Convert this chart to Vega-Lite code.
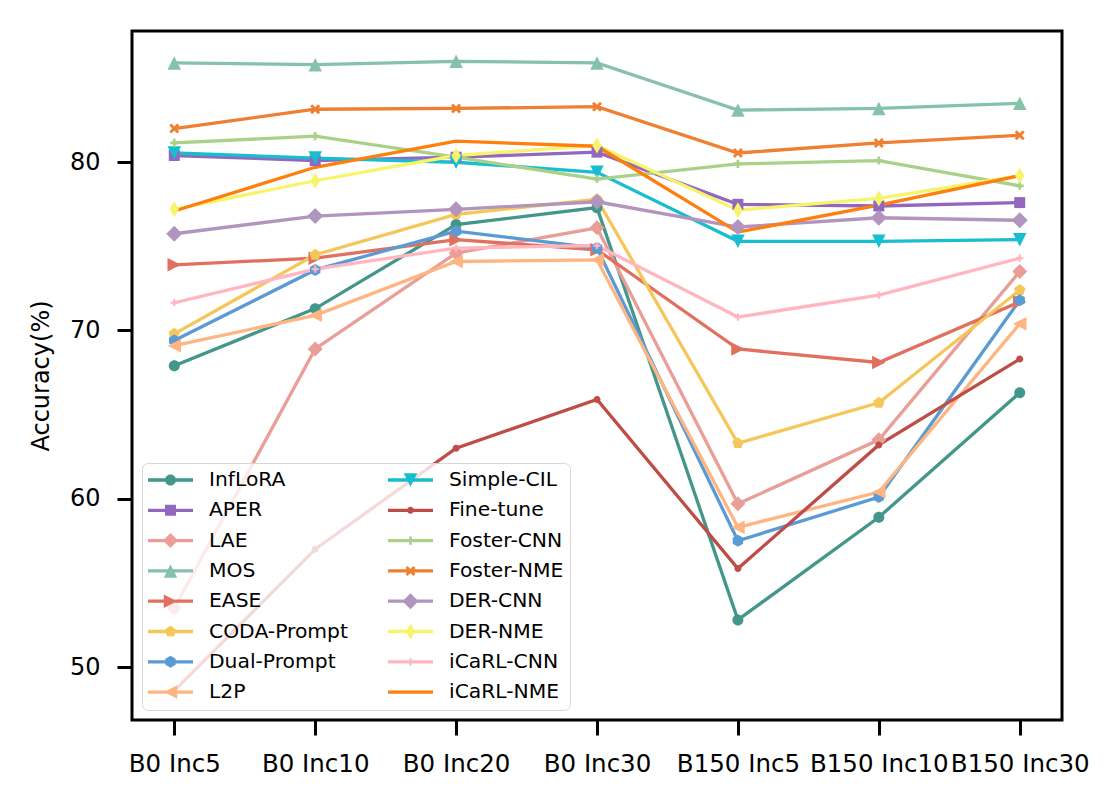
{
  "$schema": "https://vega.github.io/schema/vega-lite/v6.json",
  "width": 930,
  "height": 689,
  "autosize": {"type": "none"},
  "padding": {"left": 132, "top": 31, "right": 58, "bottom": 86},
  "background": "white",
  "config": {
    "view": {"stroke": "black", "strokeWidth": 3},
    "font": "DejaVu Sans",
    "axis": {"labelFont": "DejaVu Sans", "titleFont": "DejaVu Sans", "labelColor": "black", "titleColor": "black", "grid": false, "domain": false, "tickColor": "black", "tickWidth": 3, "tickSize": 15}
  },
  "data": {"values": [
    {"method": "InfLoRA", "setting": "B0 Inc5", "acc": 67.9},
    {"method": "InfLoRA", "setting": "B0 Inc10", "acc": 71.3},
    {"method": "InfLoRA", "setting": "B0 Inc20", "acc": 76.3},
    {"method": "InfLoRA", "setting": "B0 Inc30", "acc": 77.3},
    {"method": "InfLoRA", "setting": "B150 Inc5", "acc": 52.8},
    {"method": "InfLoRA", "setting": "B150 Inc10", "acc": 58.9},
    {"method": "InfLoRA", "setting": "B150 Inc30", "acc": 66.3},
    {"method": "APER", "setting": "B0 Inc5", "acc": 80.4},
    {"method": "APER", "setting": "B0 Inc10", "acc": 80.1},
    {"method": "APER", "setting": "B0 Inc20", "acc": 80.3},
    {"method": "APER", "setting": "B0 Inc30", "acc": 80.6},
    {"method": "APER", "setting": "B150 Inc5", "acc": 77.5},
    {"method": "APER", "setting": "B150 Inc10", "acc": 77.4},
    {"method": "APER", "setting": "B150 Inc30", "acc": 77.6},
    {"method": "LAE", "setting": "B0 Inc5", "acc": 53.5},
    {"method": "LAE", "setting": "B0 Inc10", "acc": 68.9},
    {"method": "LAE", "setting": "B0 Inc20", "acc": 74.6},
    {"method": "LAE", "setting": "B0 Inc30", "acc": 76.1},
    {"method": "LAE", "setting": "B150 Inc5", "acc": 59.7},
    {"method": "LAE", "setting": "B150 Inc10", "acc": 63.5},
    {"method": "LAE", "setting": "B150 Inc30", "acc": 73.5},
    {"method": "MOS", "setting": "B0 Inc5", "acc": 85.9},
    {"method": "MOS", "setting": "B0 Inc10", "acc": 85.8},
    {"method": "MOS", "setting": "B0 Inc20", "acc": 86.0},
    {"method": "MOS", "setting": "B0 Inc30", "acc": 85.9},
    {"method": "MOS", "setting": "B150 Inc5", "acc": 83.1},
    {"method": "MOS", "setting": "B150 Inc10", "acc": 83.2},
    {"method": "MOS", "setting": "B150 Inc30", "acc": 83.5},
    {"method": "EASE", "setting": "B0 Inc5", "acc": 73.9},
    {"method": "EASE", "setting": "B0 Inc10", "acc": 74.3},
    {"method": "EASE", "setting": "B0 Inc20", "acc": 75.4},
    {"method": "EASE", "setting": "B0 Inc30", "acc": 74.8},
    {"method": "EASE", "setting": "B150 Inc5", "acc": 68.9},
    {"method": "EASE", "setting": "B150 Inc10", "acc": 68.1},
    {"method": "EASE", "setting": "B150 Inc30", "acc": 71.7},
    {"method": "CODA-Prompt", "setting": "B0 Inc5", "acc": 69.8},
    {"method": "CODA-Prompt", "setting": "B0 Inc10", "acc": 74.5},
    {"method": "CODA-Prompt", "setting": "B0 Inc20", "acc": 76.9},
    {"method": "CODA-Prompt", "setting": "B0 Inc30", "acc": 77.8},
    {"method": "CODA-Prompt", "setting": "B150 Inc5", "acc": 63.3},
    {"method": "CODA-Prompt", "setting": "B150 Inc10", "acc": 65.7},
    {"method": "CODA-Prompt", "setting": "B150 Inc30", "acc": 72.4},
    {"method": "Dual-Prompt", "setting": "B0 Inc5", "acc": 69.4},
    {"method": "Dual-Prompt", "setting": "B0 Inc10", "acc": 73.6},
    {"method": "Dual-Prompt", "setting": "B0 Inc20", "acc": 75.9},
    {"method": "Dual-Prompt", "setting": "B0 Inc30", "acc": 74.9},
    {"method": "Dual-Prompt", "setting": "B150 Inc5", "acc": 57.5},
    {"method": "Dual-Prompt", "setting": "B150 Inc10", "acc": 60.1},
    {"method": "Dual-Prompt", "setting": "B150 Inc30", "acc": 71.8},
    {"method": "L2P", "setting": "B0 Inc5", "acc": 69.1},
    {"method": "L2P", "setting": "B0 Inc10", "acc": 70.9},
    {"method": "L2P", "setting": "B0 Inc20", "acc": 74.1},
    {"method": "L2P", "setting": "B0 Inc30", "acc": 74.2},
    {"method": "L2P", "setting": "B150 Inc5", "acc": 58.3},
    {"method": "L2P", "setting": "B150 Inc10", "acc": 60.4},
    {"method": "L2P", "setting": "B150 Inc30", "acc": 70.4},
    {"method": "Simple-CIL", "setting": "B0 Inc5", "acc": 80.55},
    {"method": "Simple-CIL", "setting": "B0 Inc10", "acc": 80.25},
    {"method": "Simple-CIL", "setting": "B0 Inc20", "acc": 80.0},
    {"method": "Simple-CIL", "setting": "B0 Inc30", "acc": 79.4},
    {"method": "Simple-CIL", "setting": "B150 Inc5", "acc": 75.3},
    {"method": "Simple-CIL", "setting": "B150 Inc10", "acc": 75.3},
    {"method": "Simple-CIL", "setting": "B150 Inc30", "acc": 75.4},
    {"method": "Fine-tune", "setting": "B0 Inc5", "acc": 48.6},
    {"method": "Fine-tune", "setting": "B0 Inc10", "acc": 57.0},
    {"method": "Fine-tune", "setting": "B0 Inc20", "acc": 63.0},
    {"method": "Fine-tune", "setting": "B0 Inc30", "acc": 65.9},
    {"method": "Fine-tune", "setting": "B150 Inc5", "acc": 55.85},
    {"method": "Fine-tune", "setting": "B150 Inc10", "acc": 63.2},
    {"method": "Fine-tune", "setting": "B150 Inc30", "acc": 68.3},
    {"method": "Foster-CNN", "setting": "B0 Inc5", "acc": 81.15},
    {"method": "Foster-CNN", "setting": "B0 Inc10", "acc": 81.55},
    {"method": "Foster-CNN", "setting": "B0 Inc20", "acc": 80.3},
    {"method": "Foster-CNN", "setting": "B0 Inc30", "acc": 79.0},
    {"method": "Foster-CNN", "setting": "B150 Inc5", "acc": 79.9},
    {"method": "Foster-CNN", "setting": "B150 Inc10", "acc": 80.1},
    {"method": "Foster-CNN", "setting": "B150 Inc30", "acc": 78.6},
    {"method": "Foster-NME", "setting": "B0 Inc5", "acc": 82.0},
    {"method": "Foster-NME", "setting": "B0 Inc10", "acc": 83.15},
    {"method": "Foster-NME", "setting": "B0 Inc20", "acc": 83.2},
    {"method": "Foster-NME", "setting": "B0 Inc30", "acc": 83.3},
    {"method": "Foster-NME", "setting": "B150 Inc5", "acc": 80.55},
    {"method": "Foster-NME", "setting": "B150 Inc10", "acc": 81.15},
    {"method": "Foster-NME", "setting": "B150 Inc30", "acc": 81.6},
    {"method": "DER-CNN", "setting": "B0 Inc5", "acc": 75.75},
    {"method": "DER-CNN", "setting": "B0 Inc10", "acc": 76.8},
    {"method": "DER-CNN", "setting": "B0 Inc20", "acc": 77.2},
    {"method": "DER-CNN", "setting": "B0 Inc30", "acc": 77.65},
    {"method": "DER-CNN", "setting": "B150 Inc5", "acc": 76.15},
    {"method": "DER-CNN", "setting": "B150 Inc10", "acc": 76.7},
    {"method": "DER-CNN", "setting": "B150 Inc30", "acc": 76.55},
    {"method": "DER-NME", "setting": "B0 Inc5", "acc": 77.2},
    {"method": "DER-NME", "setting": "B0 Inc10", "acc": 78.9},
    {"method": "DER-NME", "setting": "B0 Inc20", "acc": 80.4},
    {"method": "DER-NME", "setting": "B0 Inc30", "acc": 81.0},
    {"method": "DER-NME", "setting": "B150 Inc5", "acc": 77.15},
    {"method": "DER-NME", "setting": "B150 Inc10", "acc": 77.85},
    {"method": "DER-NME", "setting": "B150 Inc30", "acc": 79.2},
    {"method": "iCaRL-CNN", "setting": "B0 Inc5", "acc": 71.65},
    {"method": "iCaRL-CNN", "setting": "B0 Inc10", "acc": 73.65},
    {"method": "iCaRL-CNN", "setting": "B0 Inc20", "acc": 74.9},
    {"method": "iCaRL-CNN", "setting": "B0 Inc30", "acc": 75.05},
    {"method": "iCaRL-CNN", "setting": "B150 Inc5", "acc": 70.8},
    {"method": "iCaRL-CNN", "setting": "B150 Inc10", "acc": 72.1},
    {"method": "iCaRL-CNN", "setting": "B150 Inc30", "acc": 74.3},
    {"method": "iCaRL-NME", "setting": "B0 Inc5", "acc": 77.1},
    {"method": "iCaRL-NME", "setting": "B0 Inc10", "acc": 79.7},
    {"method": "iCaRL-NME", "setting": "B0 Inc20", "acc": 81.25},
    {"method": "iCaRL-NME", "setting": "B0 Inc30", "acc": 80.95},
    {"method": "iCaRL-NME", "setting": "B150 Inc5", "acc": 75.85},
    {"method": "iCaRL-NME", "setting": "B150 Inc10", "acc": 77.45},
    {"method": "iCaRL-NME", "setting": "B150 Inc30", "acc": 79.2}
  ]},
  "encoding": {
    "x": {"field": "setting", "type": "ordinal", "sort": ["B0 Inc5", "B0 Inc10", "B0 Inc20", "B0 Inc30", "B150 Inc5", "B150 Inc10", "B150 Inc30"],
      "scale": {"type": "point", "padding": 0.3},
      "axis": {"title": null, "labelAngle": 0, "labelFontSize": 24.5, "labelPadding": 17}},
    "y": {"field": "acc", "type": "quantitative",
      "scale": {"domain": [46.85, 87.8], "nice": false, "zero": false},
      "axis": {"values": [50, 60, 70, 80], "title": "Accuracy(%)", "titleFontSize": 24, "titleFontWeight": "normal", "labelFontSize": 24, "labelPadding": 17, "titlePadding": 16}}
  },
  "layer": [
    {
      "mark": {"type": "line", "strokeWidth": 3.3},
      "encoding": {
        "order": {"value": null},
        "color": {"field": "method", "type": "nominal",
          "scale": {
            "domain": ["InfLoRA", "APER", "LAE", "MOS", "EASE", "CODA-Prompt", "Dual-Prompt", "L2P", "Simple-CIL", "Fine-tune", "Foster-CNN", "Foster-NME", "DER-CNN", "DER-NME", "iCaRL-CNN", "iCaRL-NME"],
            "range": ["#42978A", "#9467BE", "#EA9E98", "#86C2AA", "#E1705F", "#F5C75B", "#5B9BD5", "#FFB581", "#17BECF", "#BE4D47", "#ABD08A", "#EF7F31", "#B295BF", "#F6F46B", "#FFB6C1", "#FF7F0E"]},
          "legend": {"title": null, "orient": "none", "legendX": 10, "legendY": 432, "columns": 2, "direction": "vertical", "symbolSize": 2025, "symbolStrokeWidth": 0, "labelFont": "DejaVu Sans", "labelFontSize": 20.3, "labelColor": "black", "labelOffset": 16, "labelLimit": 0, "rowPadding": 8.3, "columnPadding": 40, "padding": 6, "clipHeight": 22, "fillColor": "rgba(255,255,255,0.8)", "strokeColor": "#d6d6d6", "cornerRadius": 6,
            "encode": {
              "symbols": {"update": {
                "shape": {"signal": "'M-1,-0.073H1V0.073H-1Z' + ['M0.244,0A0.244,0.244,0,1,1,-0.244,0A0.244,0.244,0,1,1,0.244,0Z','M-0.244,-0.244H0.244V0.244H-0.244Z','M0,-0.333L0.333,0L0,0.333L-0.333,0Z','M0,-0.3L0.3,0.3L-0.3,0.3Z','M0.3,0L-0.3,0.3L-0.3,-0.3Z','M0,-0.267L0.254,-0.083L0.157,0.216L-0.157,0.216L-0.254,-0.083Z','M0,-0.267L0.231,-0.133L0.231,0.133L0,0.267L-0.231,0.133L-0.231,-0.133Z','M-0.3,0L0.3,-0.3L0.3,0.3Z','M-0.3,-0.3L0.3,-0.3L0,0.3Z','M0.156,0A0.156,0.156,0,1,1,-0.156,0A0.156,0.156,0,1,1,0.156,0Z','M-0.06,-0.18H0.06V-0.06H0.18V0.06H0.06V0.18H-0.06V0.06H-0.18V-0.06H-0.06Z','M-0.222,-0.133L-0.133,-0.222L0,-0.089L0.133,-0.222L0.222,-0.133L0.089,0L0.222,0.133L0.133,0.222L0,0.089L-0.133,0.222L-0.222,0.133L-0.089,0Z','M0,-0.356L0.356,0L0,0.356L-0.356,0Z','M0,-0.356L0.21,0L0,0.356L-0.21,0Z','M-0.05,-0.16H0.05V-0.05H0.16V0.05H0.05V0.16H-0.05V0.05H-0.16V-0.05H-0.05Z',''][indexof(['InfLoRA','APER','LAE','MOS','EASE','CODA-Prompt','Dual-Prompt','L2P','Simple-CIL','Fine-tune','Foster-CNN','Foster-NME','DER-CNN','DER-NME','iCaRL-CNN','iCaRL-NME'], datum.value)]"},
                "fill": {"signal": "['#42978A','#9467BE','#EA9E98','#86C2AA','#E1705F','#F5C75B','#5B9BD5','#FFB581','#17BECF','#BE4D47','#ABD08A','#EF7F31','#B295BF','#F6F46B','#FFB6C1','#FF7F0E'][indexof(['InfLoRA','APER','LAE','MOS','EASE','CODA-Prompt','Dual-Prompt','L2P','Simple-CIL','Fine-tune','Foster-CNN','Foster-NME','DER-CNN','DER-NME','iCaRL-CNN','iCaRL-NME'], datum.value)]"},
                "strokeWidth": {"value": 0},
                "opacity": {"value": 1}
              }}
            }}}
      }
    },
    {
      "transform": [{"filter": "datum.method !== 'iCaRL-NME'"}],
      "mark": {"type": "point", "filled": true, "opacity": 1, "size": 2025, "strokeWidth": 0},
      "encoding": {
        "color": {"field": "method", "type": "nominal", "legend": null,
          "scale": {
            "domain": ["InfLoRA", "APER", "LAE", "MOS", "EASE", "CODA-Prompt", "Dual-Prompt", "L2P", "Simple-CIL", "Fine-tune", "Foster-CNN", "Foster-NME", "DER-CNN", "DER-NME", "iCaRL-CNN", "iCaRL-NME"],
            "range": ["#42978A", "#9467BE", "#EA9E98", "#86C2AA", "#E1705F", "#F5C75B", "#5B9BD5", "#FFB581", "#17BECF", "#BE4D47", "#ABD08A", "#EF7F31", "#B295BF", "#F6F46B", "#FFB6C1", "#FF7F0E"]}},
        "shape": {"field": "method", "type": "nominal", "legend": null,
          "scale": {
            "domain": ["InfLoRA", "APER", "LAE", "MOS", "EASE", "CODA-Prompt", "Dual-Prompt", "L2P", "Simple-CIL", "Fine-tune", "Foster-CNN", "Foster-NME", "DER-CNN", "DER-NME", "iCaRL-CNN", "iCaRL-NME"],
            "range": [
              "M0.244,0A0.244,0.244,0,1,1,-0.244,0A0.244,0.244,0,1,1,0.244,0Z",
              "M-0.244,-0.244H0.244V0.244H-0.244Z",
              "M0,-0.333L0.333,0L0,0.333L-0.333,0Z",
              "M0,-0.3L0.3,0.3L-0.3,0.3Z",
              "M0.3,0L-0.3,0.3L-0.3,-0.3Z",
              "M0,-0.267L0.254,-0.083L0.157,0.216L-0.157,0.216L-0.254,-0.083Z",
              "M0,-0.267L0.231,-0.133L0.231,0.133L0,0.267L-0.231,0.133L-0.231,-0.133Z",
              "M-0.3,0L0.3,-0.3L0.3,0.3Z",
              "M-0.3,-0.3L0.3,-0.3L0,0.3Z",
              "M0.156,0A0.156,0.156,0,1,1,-0.156,0A0.156,0.156,0,1,1,0.156,0Z",
              "M-0.06,-0.18H0.06V-0.06H0.18V0.06H0.06V0.18H-0.06V0.06H-0.18V-0.06H-0.06Z",
              "M-0.222,-0.133L-0.133,-0.222L0,-0.089L0.133,-0.222L0.222,-0.133L0.089,0L0.222,0.133L0.133,0.222L0,0.089L-0.133,0.222L-0.222,0.133L-0.089,0Z",
              "M0,-0.356L0.356,0L0,0.356L-0.356,0Z",
              "M0,-0.356L0.21,0L0,0.356L-0.21,0Z",
              "M-0.05,-0.16H0.05V-0.05H0.16V0.05H0.05V0.16H-0.05V0.05H-0.16V-0.05H-0.05Z",
              "M0,0Z"
            ]}}
      }
    }
  ],
  "resolve": {"scale": {"color": "independent", "shape": "independent"}, "legend": {"color": "independent", "shape": "independent"}}
}
